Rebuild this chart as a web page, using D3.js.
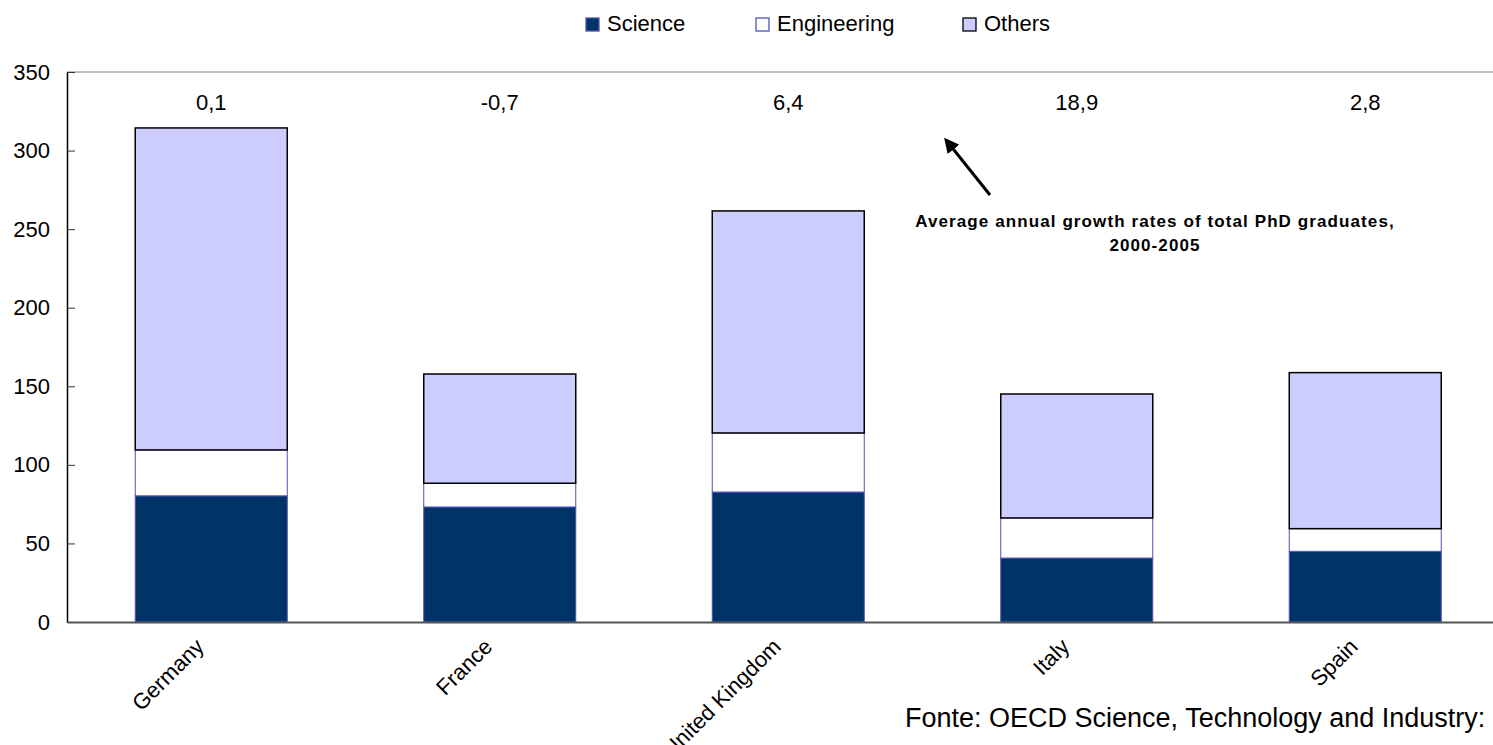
<!DOCTYPE html>
<html>
<head>
<meta charset="utf-8">
<script src="https://cdn.jsdelivr.net/npm/d3@7"></script>
<style>
  html, body { margin: 0; padding: 0; background: #fff; overflow: hidden; }
  svg { display: block; font-family: "Liberation Sans", Arial, sans-serif; }
</style>
</head>
<body>
<svg id="chart" width="1493" height="745"></svg>
<script>
const countries = ["Germany", "France", "United Kingdom", "Italy", "Spain"];
const science = [80.3, 73.2, 82.7, 40.7, 45.0];
const engineering = [29.2, 15.1, 37.6, 25.5, 14.4];
const others = [204.9, 69.5, 141.3, 78.9, 99.3];
const growthRates = ["0,1", "-0,7", "6,4", "18,9", "2,8"];
const seriesNames = ["Science", "Engineering", "Others"];
const yTicks = [0, 50, 100, 150, 200, 250, 300, 350];
const sourceText = "Fonte: OECD Science, Technology and Industry: Outlook 2008";
const annotationLines = ["Average annual growth rates of total PhD graduates,", "2000-2005"];

const fills = ["#003366", "#ffffff", "#ccccff"];
const strokes = ["#5050b8", "#5050b8", "#000000"];
const FONT = "Liberation Sans, Arial, sans-serif";

const svg = d3.select("#chart");
const margin = { left: 67, top: 72 };
const plotW = 1442.5, plotH = 550;

const x = d3.scaleBand().domain(countries).range([margin.left, margin.left + plotW]).paddingInner(0.473).paddingOuter(0.2365);
const y = d3.scaleLinear().domain([0, 350]).range([margin.top + plotH, margin.top]);

// top border
svg.append("line")
  .attr("x1", margin.left).attr("x2", margin.left + plotW)
  .attr("y1", y(350)).attr("y2", y(350))
  .attr("stroke", "#808080").attr("stroke-width", 1);

// stacked data
const rows = countries.map((c, i) => ({ country: c, Science: science[i], Engineering: engineering[i], Others: others[i] }));
const stacked = d3.stack().keys(seriesNames)(rows);

const bw = 152;
stacked.forEach((layer, k) => {
  svg.append("g").selectAll("rect").data(layer).join("rect")
    .attr("x", d => x(d.data.country) + x.bandwidth() / 2 - bw / 2)
    .attr("width", bw)
    .attr("y", d => y(d[1]))
    .attr("height", d => y(d[0]) - y(d[1]))
    .attr("fill", fills[k])
    .attr("stroke", strokes[k])
    .attr("stroke-width", k === 2 ? 1.5 : 1);
});

// y axis (ticks pointing inside)
const yAxis = d3.axisLeft(y).tickValues(yTicks).tickSizeInner(-8).tickSizeOuter(0).tickPadding(17);
const gy = svg.append("g").attr("transform", `translate(${margin.left},0)`).call(yAxis);
gy.select(".domain").attr("stroke", "#000").attr("stroke-width", 1.5);
gy.selectAll(".tick line").attr("stroke", "#333").attr("stroke-width", 1);
gy.selectAll(".tick text").attr("font-size", 22).attr("fill", "#000").attr("font-family", FONT);

// x axis
const xAxis = d3.axisBottom(x).tickSize(0).tickPadding(0);
const gx = svg.append("g").attr("transform", `translate(0,${y(0)})`).call(xAxis);
gx.select(".domain").attr("stroke", "#555").attr("stroke-width", 2);
gx.selectAll(".tick text")
  .attr("font-size", 22).attr("fill", "#000").attr("font-family", FONT)
  .attr("text-anchor", "end")
  .attr("dy", null).attr("y", 0)
  .attr("transform", "translate(-6,26) rotate(-45)");

// growth rate labels
svg.append("g").selectAll("text").data(countries).join("text")
  .attr("x", d => x(d) + x.bandwidth() / 2)
  .attr("y", 110)
  .attr("text-anchor", "middle")
  .attr("font-size", 22)
  .attr("fill", "#000")
  .text((d, i) => growthRates[i]);

// arrow
const defs = svg.append("defs");
defs.append("marker").attr("id", "ah").attr("viewBox", "0 0 10 10")
  .attr("refX", 8).attr("refY", 5).attr("markerWidth", 5).attr("markerHeight", 5)
  .attr("orient", "auto")
  .append("path").attr("d", "M0,0 L10,5 L0,10 z").attr("fill", "#000");
svg.append("line")
  .attr("x1", 990).attr("y1", 195).attr("x2", 946).attr("y2", 140)
  .attr("stroke", "#000").attr("stroke-width", 3)
  .attr("marker-end", "url(#ah)");

// annotation
svg.append("g").selectAll("text").data(annotationLines).join("text")
  .attr("x", 1155).attr("y", (d, i) => 227 + i * 24)
  .attr("text-anchor", "middle")
  .attr("font-size", 17).attr("font-weight", "bold").attr("fill", "#000")
  .attr("letter-spacing", 1.1)
  .text(d => d);

// legend
const legendX = [586, 756, 963];
const lg = svg.append("g");
seriesNames.forEach((s, i) => {
  lg.append("rect").attr("x", legendX[i]).attr("y", 18).attr("width", 13).attr("height", 13)
    .attr("fill", fills[i]).attr("stroke", strokes[i]).attr("stroke-width", 1.3);
  lg.append("text").attr("x", legendX[i] + 21).attr("y", 31)
    .attr("font-size", 22).attr("fill", "#000").text(s);
});

// source
svg.append("text").attr("x", 905).attr("y", 727)
  .attr("font-size", 27).attr("fill", "#000").text(sourceText);
</script>
</body>
</html>
